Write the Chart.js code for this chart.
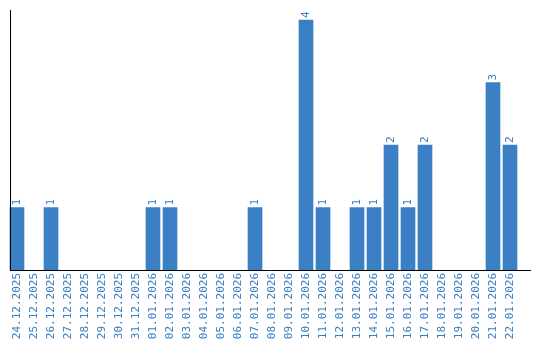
<!DOCTYPE html>
<html>
<head>
<meta charset="utf-8">
<script src="https://cdn.jsdelivr.net/npm/chart.js@4/dist/chart.umd.min.js"></script>
<style>
html,body{margin:0;padding:0;background:#fff;}
#wrap{width:540px;height:340px;}
</style>
</head>
<body>
<div id="wrap"><canvas id="c" width="540" height="340"></canvas></div>
<script>
const categories = ["24.12.2025","25.12.2025","26.12.2025","27.12.2025","28.12.2025","29.12.2025","30.12.2025","31.12.2025","01.01.2026","02.01.2026","03.01.2026","04.01.2026","05.01.2026","06.01.2026","07.01.2026","08.01.2026","09.01.2026","10.01.2026","11.01.2026","12.01.2026","13.01.2026","14.01.2026","15.01.2026","16.01.2026","17.01.2026","18.01.2026","19.01.2026","20.01.2026","21.01.2026","22.01.2026"];
const counts = [1,0,1,0,0,0,0,0,1,1,0,0,0,0,1,0,0,4,1,0,1,1,2,1,2,0,0,0,3,2];

const barColor = "#3b7fc4";
const textColor = "#3a7fc2";
const monoFont = "'DejaVu Sans Mono', 'Liberation Mono', monospace";

const valueLabels = {
  id: "valueLabels",
  afterDatasetsDraw(chart) {
    const ctx = chart.ctx;
    const meta = chart.getDatasetMeta(0);
    ctx.save();
    ctx.fillStyle = textColor;
    ctx.font = "11px " + monoFont;
    ctx.textAlign = "left";
    ctx.textBaseline = "middle";
    meta.data.forEach((bar, i) => {
      const v = counts[i];
      if (!v) return;
      ctx.save();
      ctx.translate(bar.x, bar.y - 2);
      ctx.rotate(-Math.PI / 2);
      ctx.fillText(String(v), 0, 0);
      ctx.restore();
    });
    ctx.restore();
  }
};

const axisLines = {
  id: "axisLines",
  afterDatasetsDraw(chart) {
    const ctx = chart.ctx;
    const a = chart.chartArea;
    const base = chart.scales.y.getPixelForValue(0);
    ctx.save();
    ctx.strokeStyle = "#000";
    ctx.lineWidth = 1;
    ctx.beginPath();
    const lx = Math.round(a.left + 1.5) + 0.5;
    ctx.moveTo(lx, a.top);
    ctx.lineTo(lx, base);
    ctx.stroke();
    ctx.beginPath();
    const by = Math.round(base) + 0.5;
    ctx.moveTo(lx - 0.5, by);
    ctx.lineTo(a.right + 12.5, by);
    ctx.stroke();
    ctx.restore();
  }
};

new Chart(document.getElementById("c"), {
  type: "bar",
  data: {
    labels: categories,
    datasets: [{
      data: counts,
      backgroundColor: (c) => (c.raw ? barColor : "rgba(0,0,0,0)"),
      borderWidth: 0,
      barThickness: 14
    }]
  },
  options: {
    responsive: false,
    animation: false,
    devicePixelRatio: 1,
    layout: { padding: { left: 8.5, right: 21.5, top: 10, bottom: 0 } },
    plugins: { legend: { display: false }, tooltip: { enabled: false } },
    scales: {
      x: {
        grid: { display: false, drawTicks: false },
        border: { display: false },
        afterFit: (s) => { s.height = 70; },
        ticks: {
          color: textColor,
          font: { family: monoFont, size: 11 },
          minRotation: 90,
          maxRotation: 90,
          autoSkip: false,
          padding: 3
        }
      },
      y: {
        display: false,
        min: 0,
        max: 4.16
      }
    }
  },
  plugins: [valueLabels, axisLines]
});
</script>
</body>
</html>
